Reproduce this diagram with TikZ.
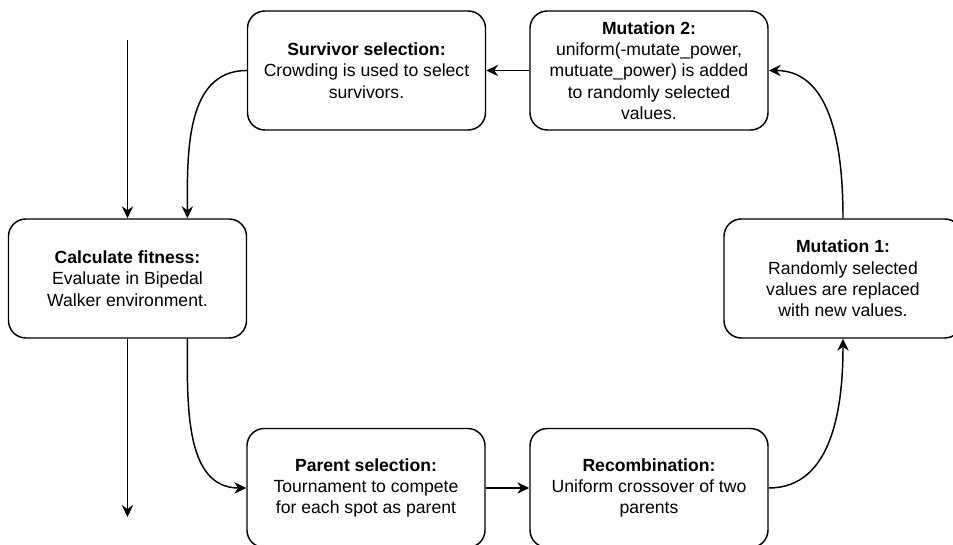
\documentclass[tikz,border=0pt]{standalone}
\usepackage{fontspec}
\setmainfont{Liberation Sans}
\usetikzlibrary{arrows.meta,calc}

\begin{document}
\begin{tikzpicture}[x=0.75pt,y=0.75pt,
   stage/.style ={rectangle, rounded corners=13pt, draw, line width=1.1pt, align=center, inner sep=0pt,
      minimum width=178.5pt, minimum height=89.25pt, font=\fontsize{13.2pt}{16pt}\selectfont},
   flow/.style ={-{Stealth[length=9pt,width=8.5pt,inset=3pt]}, line width=1.1pt}]
   \useasboundingbox (0,0) rectangle (953,545);

   \node[stage] (survivor) at (366.5,474.5) {\textbf{Survivor selection:}\\Crowding is used to select\\survivors.};
   \node[stage] (mut2)     at (649,474.5)   {\textbf{Mutation 2:}\\uniform(-mutate\_power,\\mutuate\_power) is added\\to randomly selected\\values.};
   \node[stage] (calc)     at (127.5,266.5) {\textbf{Calculate fitness:}\\Evaluate in Bipedal\\Walker environment.};
   \node[stage] (mut1)     at (843,266.5)   {\textbf{Mutation 1:}\\Randomly selected\\values are replaced\\with new values.};
   \node[stage] (parent)   at (366,57)      {\textbf{Parent selection:}\\Tournament to compete\\for each spot as parent};
   \node[stage] (recomb)   at (649,57)      {\textbf{Recombination:}\\Uniform crossover of two\\parents};
   \coordinate (entry) at (127.5,505);
   \coordinate (exit)  at (127.5,28);

   \draw[flow] (entry) -- (calc.north);
   \draw[flow] (survivor.west) to[out=180,in=90] ($(calc.north west)!0.75!(calc.north east)$);
   \draw[flow] (calc.south) -- (exit);
   \draw[flow] ($(calc.south west)!0.75!(calc.south east)$) to[out=-90,in=180] (parent.west);
   \draw[flow] (parent) -- (recomb);
   \draw[flow] (recomb.east) to[out=0,in=-90] (mut1.south);
   \draw[flow] (mut1.north) to[out=90,in=0] (mut2.east);
   \draw[flow] (mut2) -- (survivor);
\end{tikzpicture}
\end{document}
